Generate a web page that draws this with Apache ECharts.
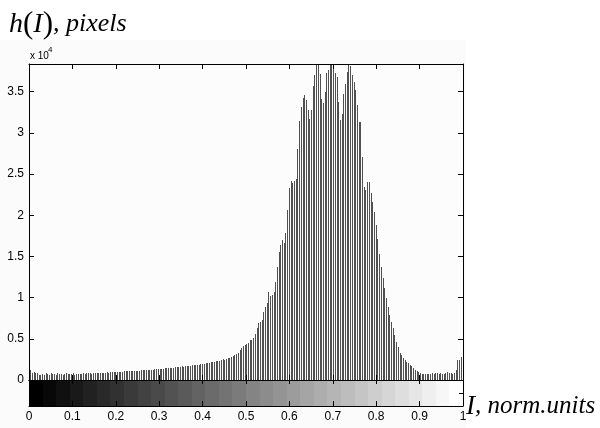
<!DOCTYPE html>
<html>
<head>
<meta charset="utf-8">
<script src="https://cdn.jsdelivr.net/npm/echarts@6/dist/echarts.min.js"></script>
<style>html,body{margin:0;padding:0;background:#fff;}#c{width:600px;height:428px;}</style>
</head>
<body>
<div id="c"></div>
<script>
// Histogram counts, bins 0..124
const countsA = [
 3800,1250,900,1000,850,900,650,600,700,650,
 800,750,650,800,700,750,650,800,700,780,
 650,720,800,700,760,680,800,600,720,750,
 700,780,800,760,820,800,830,780,850,820,
 870,850,880,900,870,910,950,900,960,930,
 970,1000,950,1010,1030,990,1050,1060,1040,1080,
 1100,1070,1120,1130,1110,1150,1180,1160,1200,1220,
 1190,1250,1270,1240,1300,1330,1310,1360,1390,1370,
 1420,1450,1430,1480,1500,1480,1540,1570,1550,1610,
 1640,1620,1680,1700,1680,1750,1790,1760,1830,1870,
 1850,1920,1960,1940,2020,2070,2050,2140,2200,2180,
 2280,2350,2330,2430,2500,2480,2600,2700,2680,2820,
 2950,3000,3150,3300,3600
];
// bins 125..182
const countsB = [
 3840,4120,4240,4400,4520,4850,4850,5130,5580,6340,
 6870,7070,7270,8200,8890,9300,10700,10200,10300,10700,
 11900,13660,15550,16360,17050,16640,17900,20690,23350,24160,
 23960,24200,24450,28080,31390,33120,34260,34540,34020,32810,
 31720,32720,35630,37000,39500,39000,37170,34140,33610,34940,
 37240,37570,39200,39000,37900,37300,36760,33730
];
// bins 183..255
const countsC = [
 31510,32320,34750,35960,37370,38180,38060,36970,36160,35150,
 33330,31310,31310,27060,23430,23030,24030,24030,22700,21610,
 20400,18790,17170,15350,13730,12320,11110,9900,8890,7880,
 7070,6260,5450,4650,4040,3310,3030,2710,2420,2220,
 2020,1820,1700,1420,1210,1090,1010,810,
 730,700,730,720,760,730,800,770,850,800,
 760,820,780,750,900,950,900,820,780,900,
 1200,2420,2450,2750,2800
];
const counts = countsA.concat(countsB, countsC);
// colour bar grey levels (32 steps, black to white)
const grayLevels = [0,8,16,25,33,41,49,58,66,74,82,90,99,107,115,123,132,140,148,156,165,173,181,189,197,206,214,222,230,239,247,255];
const xTicks = [0,0.1,0.2,0.3,0.4,0.5,0.6,0.7,0.8,0.9,1];
const yTickStep = 5000;
const YMAX = 38350;

const histData = counts.map((v, i) => [i / (counts.length - 1), v]);
const barData = grayLevels.map((g, k) => [k / grayLevels.length, 0, g]);

const chart = echarts.init(document.getElementById('c'), null, {renderer: 'canvas'});
const axisLine = {show: true, onZero: false, lineStyle: {color: '#000', width: 1}};
const font = 'Liberation Sans';
function xAx(grid, pos, labels, tickLen) {
  return {type: 'value', gridIndex: grid, position: pos, min: xTicks[0], max: xTicks[xTicks.length - 1], interval: 0.1, z: 10,
    axisLine: axisLine, splitLine: {show: false},
    axisTick: {show: true, inside: true, length: tickLen, lineStyle: {color: '#000'}},
    axisLabel: {show: labels, color: '#000', fontFamily: font, fontSize: 12, margin: 5,
      formatter: v => String(+v.toFixed(1))}};
}
function yAx(grid, pos, max, step, labels, tickLen) {
  return {type: 'value', gridIndex: grid, position: pos, min: 0, max: max, interval: step, z: 10,
    axisLine: axisLine, splitLine: {show: false},
    axisTick: {show: true, inside: true, length: tickLen, lineStyle: {color: '#000'}},
    axisLabel: {show: labels, color: '#000', fontFamily: font, fontSize: 12, margin: 5,
      formatter: v => (Math.abs(v % yTickStep) < 1e-6 ? String(+(v / 10000).toFixed(2)) : '')}};
}

chart.setOption({
  animation: false,
  backgroundColor: '#ffffff',
  grid: [
    {left: 29, top: 64, width: 434, height: 316, show: true, backgroundColor: '#fcfcfc', borderWidth: 0},
    {left: 29, top: 380, width: 434, height: 26, show: false}
  ],
  xAxis: [xAx(0, 'bottom', false, 5), xAx(0, 'top', false, 5), xAx(1, 'bottom', true, 5), xAx(1, 'top', false, 4)],
  yAxis: [yAx(0, 'left', YMAX, yTickStep, true, 5), yAx(0, 'right', YMAX, yTickStep, false, 5),
          yAx(1, 'left', 1, 0.5, false, 4), yAx(1, 'right', 1, 0.5, false, 4)],
  graphic: [
    {type: 'rect', z: -100, silent: true, shape: {x: 0, y: 40, width: 466, height: 388}, style: {fill: '#fbfbfb'}},
    {type: 'text', x: 9, y: 9, silent: true, style: {
      text: '{a|h}{b|(}{a|I}{b|)}{c|, pixels}',
      rich: {
        a: {fontFamily: 'Liberation Serif', fontStyle: 'italic', fontSize: 28, fill: '#000'},
        b: {fontFamily: 'Liberation Serif', fontSize: 31, fill: '#000'},
        c: {fontFamily: 'Liberation Serif', fontStyle: 'italic', fontSize: 26, fill: '#000'}
      }}},
    {type: 'text', x: 30, y: 51, silent: true, style: {text: 'x 10', fontFamily: font, fontSize: 10, fill: '#000'}},
    {type: 'text', x: 48, y: 46, silent: true, style: {text: '4', fontFamily: font, fontSize: 8, fill: '#000'}},
    {type: 'text', x: 466, y: 393, silent: true, style: {
      text: '{a|I}{c|, norm.units}',
      rich: {
        a: {fontFamily: 'Liberation Serif', fontStyle: 'italic', fontSize: 27, fill: '#000'},
        c: {fontFamily: 'Liberation Serif', fontStyle: 'italic', fontSize: 25, fill: '#000'}
      }}}
  ],
  series: [
    {
      type: 'custom', xAxisIndex: 0, yAxisIndex: 0, data: histData, encode: {x: 0, y: 1},
      renderItem: function (params, api) {
        const x = api.value(0);
        const y = Math.min(api.value(1), YMAX);
        const b = api.coord([x, 0]);
        const t = api.coord([x, y]);
        const px = Math.floor(b[0]);
        return {type: 'rect', shape: {x: px, y: Math.round(t[1]), width: 1, height: Math.round(b[1]) - Math.round(t[1])},
          style: {fill: '#505050'}};
      }
    },
    {
      type: 'custom', xAxisIndex: 2, yAxisIndex: 2, data: barData, encode: {x: 0, y: 1},
      renderItem: function (params, api) {
        const a = api.coord([api.value(0), 0]);
        const b = api.coord([api.value(0) + 1 / grayLevels.length, 1]);
        const g = api.value(2);
        const x0 = Math.round(a[0]), x1 = Math.round(b[0]);
        return {type: 'rect', shape: {x: x0, y: Math.round(b[1]), width: x1 - x0, height: Math.round(a[1]) - Math.round(b[1])},
          style: {fill: 'rgb(' + g + ',' + g + ',' + g + ')'}};
      }
    }
  ]
});
</script>
</body>
</html>
